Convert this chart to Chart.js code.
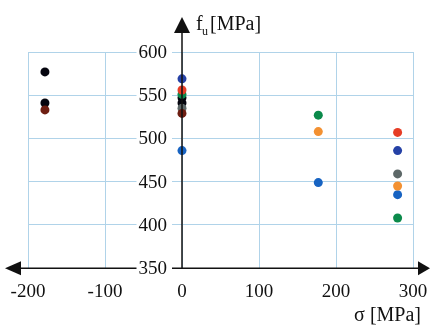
<!DOCTYPE html>
<html lang="en">
<head>
<meta charset="UTF-8">
<title>fu vs sigma</title>
<script src="https://cdn.jsdelivr.net/npm/chart.js"></script>
<style>
  body { margin: 0; background: #fff; }
  canvas { display: block; }
</style>
</head>
<body>
<canvas id="chart" width="430" height="326"></canvas>
<script>
// tick values
const xTicks = [-200, -100, 0, 100, 200, 300];
const yTicks = [350, 400, 450, 500, 550, 600];

// points, one array per colour
const red      = [{x: 0, y: 556}, {x: 280, y: 507}];
const orange   = [{x: 177, y: 508}, {x: 280, y: 445}];
const green    = [{x: 0, y: 551}, {x: 177, y: 527}, {x: 280, y: 408}];
const darkRed  = [{x: -178, y: 533}, {x: 0, y: 529}];
const gray     = [{x: 0, y: 535}, {x: 280, y: 459}];
const black    = [{x: -178, y: 577}, {x: -178, y: 541}, {x: 0, y: 547}, {x: 0, y: 541}];
const blue     = [{x: 0, y: 486}, {x: 177, y: 449}, {x: 280, y: 435}];
const darkBlue = [{x: 0, y: 569}, {x: 280, y: 486}];

const FONT = '"Liberation Serif", "DejaVu Serif", serif';

function series(data, color) {
  return { data, backgroundColor: color, borderWidth: 0, pointRadius: 4.5, pointHoverRadius: 4.5 };
}

// axis arrows, y labels with white backdrop, axis titles
const axesPlugin = {
  id: 'axes',
  afterDatasetsDraw(chart) {
    const ctx = chart.ctx;
    const xs = chart.scales.x, ys = chart.scales.y;
    const x0 = xs.getPixelForValue(0);
    const yb = ys.getPixelForValue(350);
    ctx.save();
    ctx.strokeStyle = '#111';
    ctx.fillStyle = '#111';
    ctx.lineWidth = 1.5;
    // x axis
    ctx.beginPath();
    ctx.moveTo(8, yb); ctx.lineTo(427, yb); ctx.stroke();
    ctx.beginPath();
    ctx.moveTo(5, yb); ctx.lineTo(21, yb - 7); ctx.lineTo(21, yb + 7); ctx.closePath(); ctx.fill();
    ctx.beginPath();
    ctx.moveTo(430, yb); ctx.lineTo(418, yb - 7); ctx.lineTo(418, yb + 7); ctx.closePath(); ctx.fill();
    // y axis
    ctx.beginPath();
    ctx.moveTo(x0, yb); ctx.lineTo(x0, 20); ctx.stroke();
    ctx.beginPath();
    ctx.moveTo(x0, 17); ctx.lineTo(x0 - 8, 33); ctx.lineTo(x0 + 8, 33); ctx.closePath(); ctx.fill();

    // y tick labels
    ctx.font = '19px ' + FONT;
    ctx.textAlign = 'right';
    ctx.textBaseline = 'middle';
    ys.ticks.forEach(t => {
      const py = ys.getPixelForValue(t.value);
      const label = String(t.value);
      const w = ctx.measureText(label).width;
      ctx.fillStyle = '#fff';
      ctx.fillRect(x0 - 15 - w - 2, py - 9, w + 7, 18);
      ctx.fillStyle = '#111';
      ctx.fillText(label, x0 - 15, py + 1);
    });

    // titles
    ctx.textAlign = 'left';
    ctx.textBaseline = 'alphabetic';
    ctx.font = '20px ' + FONT;
    ctx.fillText('f', 196, 30);
    ctx.font = '12px ' + FONT;
    ctx.fillText('u', 202, 35);
    ctx.font = '20px ' + FONT;
    ctx.fillText('[MPa]', 210, 30);
    ctx.textAlign = 'right';
    ctx.fillText('\u03c3 [MPa]', 421, 321);
    ctx.restore();
  }
};

new Chart(document.getElementById('chart'), {
  type: 'scatter',
  data: {
    datasets: [
      series(red, '#e63d26'),
      series(orange, '#f39132'),
      series(green, '#0b8a4b'),
      series(darkRed, '#6e1e12'),
      series(gray, '#5d6868'),
      series(black, '#05050f'),
      series(blue, '#1763c2'),
      series(darkBlue, '#2541a6')
    ]
  },
  options: {
    responsive: false,
    devicePixelRatio: 1,
    animation: false,
    events: [],
    layout: { padding: { left: 28, right: 17, top: 52, bottom: 11 } },
    plugins: { legend: { display: false }, tooltip: { enabled: false } },
    scales: {
      x: {
        type: 'linear',
        min: -200,
        max: 300,
        afterBuildTicks: s => { s.ticks = xTicks.map(v => ({ value: v })); },
        afterFit: s => { s.paddingLeft = 0; s.paddingRight = 0; },
        grid: { color: '#b0d3e9', lineWidth: 1, drawTicks: false },
        border: { display: false },
        ticks: { padding: 12, color: '#111', font: { family: FONT, size: 19 } }
      },
      y: {
        type: 'linear',
        min: 350,
        max: 600,
        afterBuildTicks: s => { s.ticks = yTicks.map(v => ({ value: v })); },
        grid: { color: '#b0d3e9', lineWidth: 1, drawTicks: false },
        border: { display: false },
        ticks: { display: false }
      }
    }
  },
  plugins: [axesPlugin]
});
</script>
</body>
</html>
